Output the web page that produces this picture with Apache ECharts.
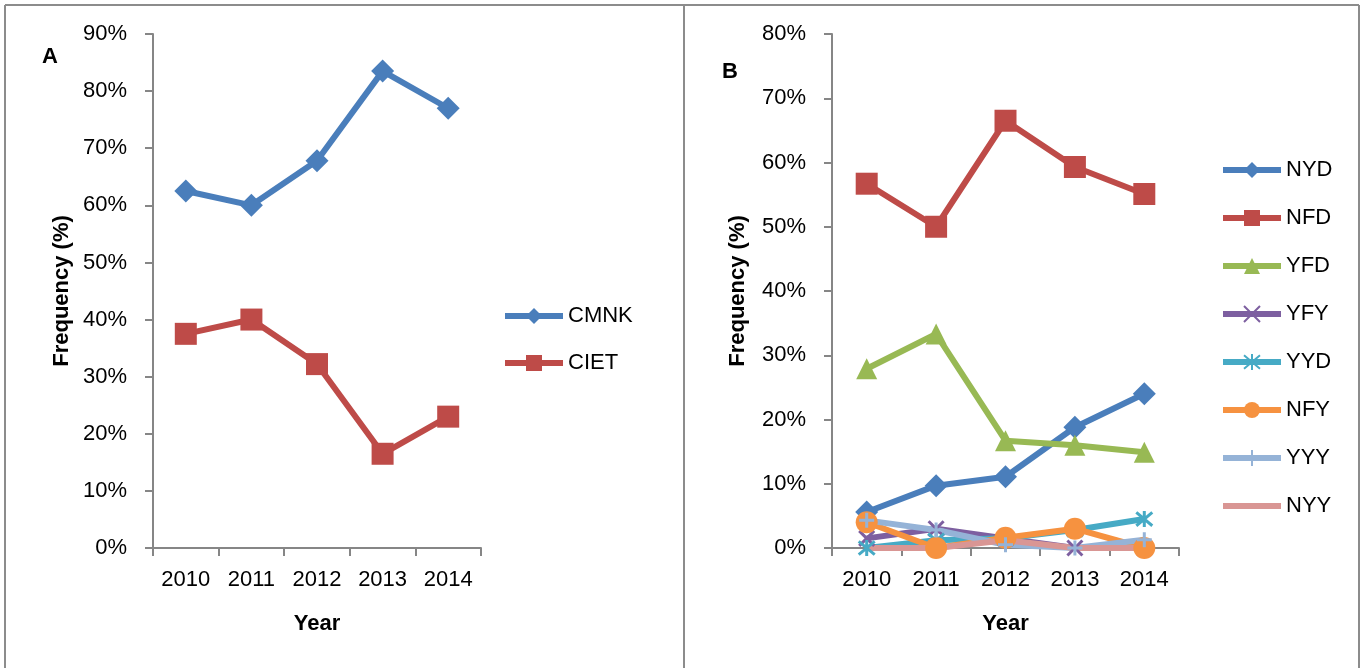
<!DOCTYPE html>
<html><head><meta charset="utf-8">
<script src="https://cdn.jsdelivr.net/npm/echarts@6/dist/echarts.min.js"></script>
<style>html,body{margin:0;padding:0;background:#fff;overflow:hidden}
#wrap{position:relative;width:1364px;height:668px}
#a{position:absolute;left:0;top:0;width:686px;height:668px}
#b{position:absolute;left:686px;top:0;width:678px;height:668px}</style>
</head><body><div id="wrap"><div id="a"></div><div id="b"></div></div>
<script>
const years = ['2010','2011','2012','2013','2014'];
const CMNK = [62.5, 60.0, 67.8, 83.5, 77.0];
const CIET = [37.5, 40.0, 32.2, 16.5, 23.0];
const NYD = [5.6, 9.7, 11.1, 18.8, 24.0];
const NFD = [56.7, 50.0, 66.5, 59.3, 55.1];
const YFD = [27.9, 33.3, 16.7, 16.0, 14.9];
const YFY = [1.5, 3.0, 1.5, 0, 0];
const YYD = [0, 1.2, 1.5, 2.8, 4.5];
const NFY = [4.0, 0, 1.6, 3.0, 0];
const YYY = [4.3, 2.8, 0.5, 0, 1.3];
const NYY = [0, 0, 1.2, 0, 0];
const yTicksA = {min: 0, max: 90, interval: 10};
const yTicksB = {min: 0, max: 80, interval: 10};

const FONT = 'Liberation Sans';
const FS = 22;
const axisGray = '#868686';
const borderGray = '#8c8c8c';
const C = {blue:'#4a7ebb', red:'#be4b48', green:'#98b954', purple:'#7d5fa0', teal:'#46aac5', orange:'#f69240', lblue:'#95b3d7', pink:'#d99694'};

const X_PATH = 'path://M0,0L10,10M10,0L0,10';
const AST_PATH = 'path://M0,0L10,10M10,0L0,10M5,-1L5,11';
const PLUS_PATH = 'path://M5,0L5,10M0,5L10,5';

function xAxis(){
  return {type:'category', data:years, boundaryGap:true,
    name:'Year', nameLocation:'middle', nameGap:65,
    nameTextStyle:{fontFamily:FONT, fontWeight:'bold', fontSize:FS, color:'#000'},
    axisLine:{lineStyle:{color:axisGray, width:2}},
    axisTick:{show:true, length:8, lineStyle:{color:axisGray, width:2}},
    axisLabel:{fontFamily:FONT, fontSize:FS, color:'#000', margin:21},
    splitLine:{show:false}};
}
function yAxis(t, gap){
  return {type:'value', min:t.min, max:t.max, interval:t.interval,
    name:'Frequency (%)', nameLocation:'middle', nameGap:gap, nameRotate:90,
    nameTextStyle:{fontFamily:FONT, fontWeight:'bold', fontSize:FS, color:'#000'},
    axisLine:{show:true, lineStyle:{color:axisGray, width:2}},
    axisTick:{show:true, length:8, lineStyle:{color:axisGray, width:2}},
    axisLabel:{fontFamily:FONT, fontSize:FS, color:'#000', margin:26, formatter:'{value}%'},
    splitLine:{show:false}};
}
function ser(name, data, color, symbol, size, strokeSym){
  const s = {name, type:'line', data,
    symbol, symbolSize:size, showSymbol: symbol!=='none',
    lineStyle:{color, width:6}, itemStyle:{color}};
  if (strokeSym){ s.itemStyle = {color, borderColor:color, borderWidth:3}; }
  return s;
}
function legend(names, left, top, gap){
  return {data:names, orient:'vertical', left, top, itemGap:gap, itemWidth:58, itemHeight:20,
    lineStyle:{width:6},
    textStyle:{fontFamily:FONT, fontSize:FS, color:'#000', lineHeight:22}};
}
function hline(x1,y1,x2,y2){ return {type:'line', shape:{x1,y1,x2,y2}, style:{stroke:borderGray, lineWidth:2}}; }

const ca = echarts.init(document.getElementById('a'));
ca.setOption({
  animation:false, backgroundColor:'#fff',
  grid:{left:153, top:34, width:328, bottom:120},
  xAxis:xAxis(), yAxis:yAxis(yTicksA, 80),
  legend:legend(['CMNK','CIET'], 497, 300, 25),
  series:[
    ser('CMNK', CMNK, C.blue, 'diamond', 23),
    ser('CIET', CIET, C.red, 'rect', 22)
  ],
  graphic:[
    hline(5,5,686,5), hline(5,5,5,668), hline(684,5,684,668),
    {type:'text', left:42, top:46, style:{text:'A', fontFamily:FONT, fontWeight:'bold', fontSize:FS, fill:'#000'}}
  ]
});

const cb = echarts.init(document.getElementById('b'));
cb.setOption({
  animation:false, backgroundColor:'#fff',
  grid:{left:146, top:34, width:347, bottom:120},
  xAxis:xAxis(), yAxis:yAxis(yTicksB, 83),
  legend:legend(['NYD','NFD','YFD','YFY','YYD','NFY','YYY',{name:'NYY', itemStyle:{opacity:0}}], 529, 154, 26),
  series:[
    ser('NYD', NYD, C.blue, 'diamond', 23),
    ser('NFD', NFD, C.red, 'rect', 22),
    ser('YFD', YFD, C.green, 'triangle', 21),
    ser('YFY', YFY, C.purple, X_PATH, 15, true),
    ser('YYD', YYD, C.teal, AST_PATH, 16, true),
    ser('NFY', NFY, C.orange, 'circle', 22),
    ser('YYY', YYY, C.lblue, PLUS_PATH, 15, true),
    ser('NYY', NYY, C.pink, 'none', 0)
  ],
  graphic:[
    hline(0,5,673,5), hline(673,5,673,668),
    {type:'text', left:36, top:61, style:{text:'B', fontFamily:FONT, fontWeight:'bold', fontSize:FS, fill:'#000'}}
  ]
});
</script></body></html>
